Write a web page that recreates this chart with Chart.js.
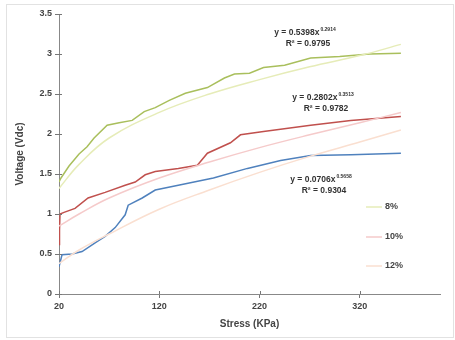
<!DOCTYPE html>
<html lang="en">
<head>
    <meta charset="UTF-8">
    <title>Voltage vs Stress</title>
    <script src="https://cdn.jsdelivr.net/npm/chart.js"></script>
    <style>
        body { margin: 0; padding: 0; background: #fff; }
        .frame { position: absolute; left: 6px; top: 4px; width: 446px; height: 332px; border: 1px solid #e2e2e2; }
        .chart-container { width: 455px; height: 340px; position: relative; }
    </style>
</head>
<body>
    <div class="frame"></div>
    <div class="chart-container"><canvas id="stressChart"></canvas></div>

    <script>
        // measured curves (stress in KPa, voltage in Vdc)
        const stressGreen = [20, 22, 30, 40, 48, 55, 68, 80, 93, 105, 116, 130, 146, 168, 185, 195, 210, 224, 245, 271, 300, 330, 361];
        const voltGreen   = [1.40, 1.45, 1.60, 1.75, 1.84, 1.95, 2.11, 2.14, 2.17, 2.28, 2.33, 2.42, 2.51, 2.58, 2.70, 2.75, 2.76, 2.83, 2.86, 2.95, 2.97, 3.00, 3.01];

        const stressRed = [20, 20.5, 21, 25, 36, 49, 66, 86, 96, 106, 116, 139, 158, 168, 191, 201, 224, 271, 311, 361];
        const voltRed   = [0.62, 0.80, 1.00, 1.02, 1.07, 1.20, 1.27, 1.36, 1.40, 1.49, 1.53, 1.57, 1.61, 1.76, 1.89, 1.99, 2.03, 2.11, 2.17, 2.22];

        const stressBlue = [20, 23, 33, 43, 56, 66, 76, 86, 89, 103, 116, 139, 174, 208, 241, 271, 311, 361];
        const voltBlue   = [0.34, 0.49, 0.50, 0.53, 0.64, 0.72, 0.83, 0.99, 1.11, 1.20, 1.30, 1.36, 1.45, 1.57, 1.67, 1.73, 1.74, 1.76];

        // power trend lines
        const trendStress = [20, 40, 70, 120, 170, 220, 270, 320, 361];
        const trendGreen  = [1.32, 1.62, 1.95, 2.27, 2.50, 2.68, 2.84, 2.98, 3.12];
        const trendRed    = [0.85, 1.00, 1.20, 1.45, 1.65, 1.83, 1.99, 2.14, 2.27];
        const trendBlue   = [0.38, 0.55, 0.75, 1.06, 1.30, 1.52, 1.72, 1.90, 2.05];

        const seriesLabels = ['8%', '10%', '12%'];
        const equations = [
            ['y = 0.5398x', '0.2914', 'R² = 0.9795'],
            ['y = 0.2802x', '0.3513', 'R² = 0.9782'],
            ['y = 0.0706x', '0.5658', 'R² = 0.9304']
        ];

        const xTicks = [20, 120, 220, 320];
        const yTicks = [0, 0.5, 1, 1.5, 2, 2.5, 3, 3.5];

        const toPoints = (xs, ys) => xs.map((x, i) => ({ x: x, y: ys[i] }));

        const lineColors  = ['#a9bf5c', '#c0504d', '#4f81bd'];
        const trendColors = ['#e6ecb8', '#f5caca', '#fadfd0'];

        const fontFamily = '"Liberation Sans", Arial, sans-serif';

        // legend, equations and the small inner tick marks
        const extrasPlugin = {
            id: 'extras',
            afterDraw(chart) {
                const ctx = chart.ctx;
                const area = chart.chartArea;
                const xs = chart.scales.x, ys = chart.scales.y;
                ctx.save();

                // inner half of tick marks
                ctx.strokeStyle = '#777';
                ctx.lineWidth = 1;
                ctx.beginPath();
                yTicks.forEach(v => {
                    const py = Math.round(ys.getPixelForValue(v)) + 0.5;
                    ctx.moveTo(area.left, py); ctx.lineTo(area.left + 3, py);
                });
                xTicks.forEach(v => {
                    const px = Math.round(xs.getPixelForValue(v)) + 0.5;
                    ctx.moveTo(px, area.bottom); ctx.lineTo(px, area.bottom - 3);
                });
                ctx.stroke();

                // trend equations
                const eqPos = [[305, 33], [323, 98], [321, 180]];
                ctx.fillStyle = '#333';
                ctx.textBaseline = 'middle';
                equations.forEach((eq, i) => {
                    const [cx, cy] = eqPos[i];
                    ctx.font = 'bold 8.5px ' + fontFamily;
                    const w1 = ctx.measureText(eq[0]).width;
                    ctx.font = 'bold 5px ' + fontFamily;
                    const w2 = ctx.measureText(eq[1]).width;
                    let x0 = cx - (w1 + w2 + 1) / 2;
                    ctx.textAlign = 'left';
                    ctx.font = 'bold 8.5px ' + fontFamily;
                    ctx.fillText(eq[0], x0, cy);
                    ctx.font = 'bold 5px ' + fontFamily;
                    ctx.fillText(eq[1], x0 + w1 + 1, cy - 3);
                    ctx.font = 'bold 8.5px ' + fontFamily;
                    ctx.textAlign = 'center';
                    ctx.fillText(eq[2], cx + 3, cy + 11);
                });

                // legend inside the plot area
                const legY = [-87, -57, -28];
                seriesLabels.forEach((lab, i) => {
                    const py = area.bottom + legY[i];
                    ctx.strokeStyle = trendColors[i];
                    ctx.lineWidth = 1.5;
                    ctx.beginPath();
                    ctx.moveTo(area.right - 74, py);
                    ctx.lineTo(area.right - 58, py);
                    ctx.stroke();
                    ctx.fillStyle = '#444';
                    ctx.font = 'bold 9px ' + fontFamily;
                    ctx.textAlign = 'left';
                    ctx.fillText(lab, area.right - 55, py);
                });
                ctx.restore();
            }
        };

        const ctx = document.getElementById('stressChart').getContext('2d');
        const chart = new Chart(ctx, {
            type: 'line',
            data: {
                datasets: [
                    { label: 'Power (8%)', data: toPoints(trendStress, trendGreen), borderColor: trendColors[0], borderWidth: 1.5, tension: 0.4 },
                    { label: 'Power (10%)', data: toPoints(trendStress, trendRed), borderColor: trendColors[1], borderWidth: 1.5, tension: 0.4 },
                    { label: 'Power (12%)', data: toPoints(trendStress, trendBlue), borderColor: trendColors[2], borderWidth: 1.5, tension: 0.4 },
                    { label: seriesLabels[0], data: toPoints(stressGreen, voltGreen), borderColor: lineColors[0], borderWidth: 1.5, tension: 0 },
                    { label: seriesLabels[1], data: toPoints(stressRed, voltRed), borderColor: lineColors[1], borderWidth: 1.5, tension: 0 },
                    { label: seriesLabels[2], data: toPoints(stressBlue, voltBlue), borderColor: lineColors[2], borderWidth: 1.5, tension: 0 }
                ]
            },
            options: {
                responsive: true,
                maintainAspectRatio: false,
                animation: false,
                elements: { point: { radius: 0 } },
                layout: { padding: { left: 14, right: 15, top: 14, bottom: 6 } },
                scales: {
                    x: {
                        type: 'linear',
                        min: 20,
                        max: 400,
                        afterBuildTicks: s => { s.ticks = xTicks.map(v => ({ value: v })); },
                        afterFit: s => { s.height = 40; },
                        grid: { display: true, drawOnChartArea: false, tickLength: 4, color: '#777' },
                        border: { color: '#888', width: 1 },
                        ticks: { color: '#444', font: { family: fontFamily, size: 9, weight: 'bold' }, padding: 3, maxRotation: 0, callback: v => String(v) },
                        title: { display: true, text: 'Stress (KPa)', color: '#444', font: { family: fontFamily, size: 10, weight: 'bold' }, padding: { top: 4 } }
                    },
                    y: {
                        min: 0,
                        max: 3.5,
                        afterBuildTicks: s => { s.ticks = yTicks.map(v => ({ value: v })); },
                        afterFit: s => { s.width = 45; },
                        grid: { display: true, drawOnChartArea: false, tickLength: 4, color: '#777' },
                        border: { color: '#888', width: 1 },
                        ticks: { color: '#444', font: { family: fontFamily, size: 9, weight: 'bold' }, padding: 3, callback: v => String(v) },
                        title: { display: true, text: 'Voltage (Vdc)', color: '#444', font: { family: fontFamily, size: 10, weight: 'bold' }, padding: 0 }
                    }
                },
                plugins: {
                    legend: { display: false },
                    tooltip: { enabled: false }
                }
            },
            plugins: [extrasPlugin]
        });
    </script>
</body>
</html>
